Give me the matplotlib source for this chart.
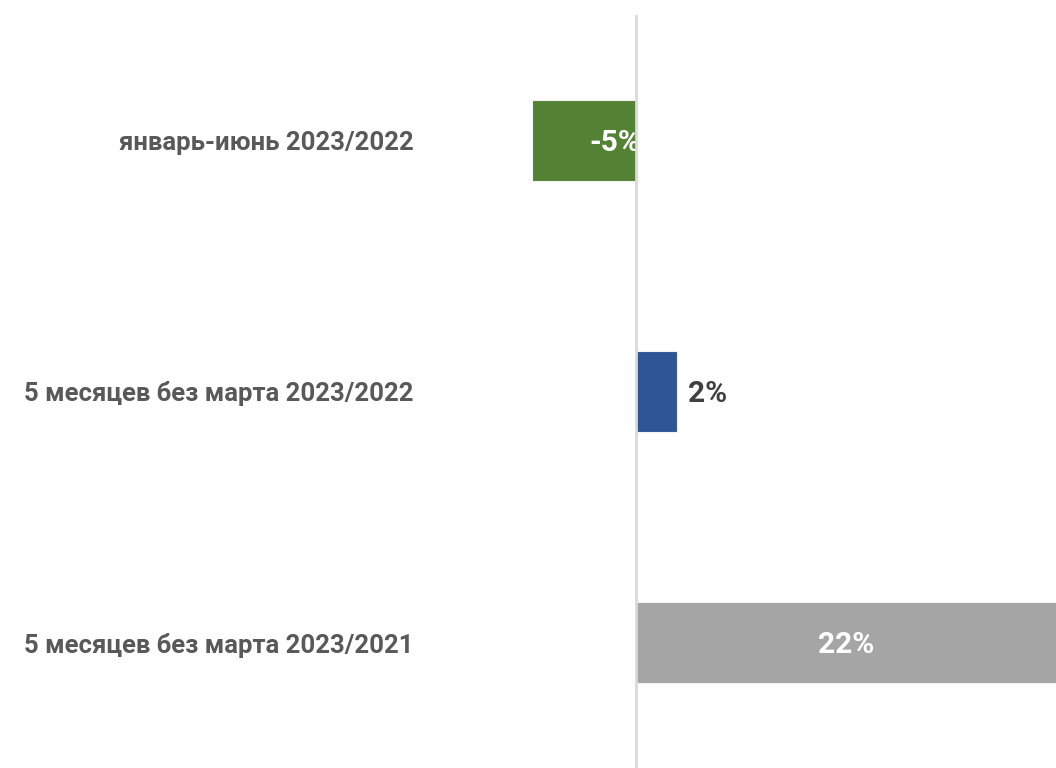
import matplotlib
matplotlib.use("Agg")
import matplotlib.pyplot as plt

categories = ["январь-июнь 2023/2022",
              "5 месяцев без марта 2023/2022",
              "5 месяцев без марта 2023/2021"]
values = [-5, 2, 22]
labels = ["-5%", "2%", "22%"]
colors = ["#548235", "#2F5597", "#A5A5A5"]

plt.rcParams['font.family'] = ['Roboto', 'DejaVu Sans']

fig = plt.figure(figsize=(10.56, 7.68), dpi=100)
ax = fig.add_axes([430 / 1056, 0, 626 / 1056, 1 - 15 / 768])

ypos = list(range(len(categories)))
ax.barh(ypos, values, height=0.32, color=colors, edgecolor="#f2f2f2",
        linewidth=0.8, zorder=2)

xmin, xmax = -9.95, 20.29
ax.set_xlim(xmin, xmax)
ax.set_ylim(len(categories) - 0.5, -0.5)

# zero line on top of bars
ax.axvline(0, color="#d9d9d9", linewidth=2, zorder=4, ymax=1 + 2 / 753)

# data labels
ax.text(0.2, 0.01, labels[0], ha="right", va="center", color="white",
        fontsize=21.5, fontweight="bold", zorder=3)
ax.text(values[1] + 0.5, 1.01, labels[1], ha="left", va="center", color="#404040",
        fontsize=21.5, fontweight="bold", zorder=3)
ax.text(min(values[2], xmax) / 2, 2.01, labels[2], ha="center", va="center",
        color="white", fontsize=21.5, fontweight="bold", zorder=3)

ax.set_yticks(ypos)
ax.set_yticklabels(categories, fontsize=18.5, fontweight="bold", color="#595959")
ax.tick_params(axis="y", length=0, pad=12)
ax.set_xticks([])
for s in ax.spines.values():
    s.set_visible(False)

fig.savefig("out.png", dpi=100)
